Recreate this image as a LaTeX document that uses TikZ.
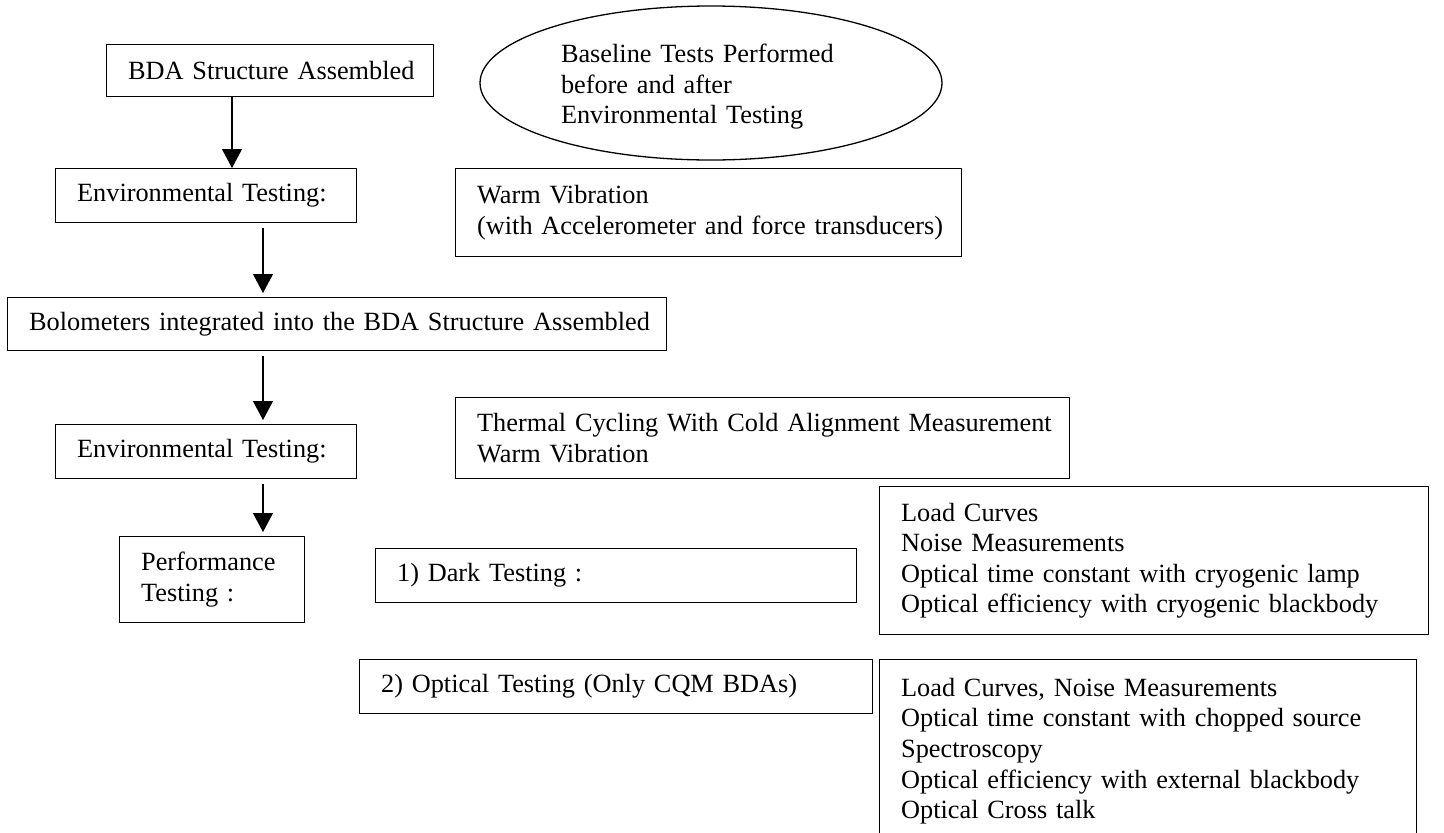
\documentclass[tikz,border=0pt]{standalone}
\usepackage{fontspec}
\setmainfont{Liberation Serif}
\usetikzlibrary{arrows.meta,shapes.geometric}
\tikzset{
	box/.style 2 args={draw,line width=1.3pt,anchor=north west,inner sep=0pt,align=left,
		text width=#1,minimum height=#2,execute at begin node={\leftskip=21.5pt\relax}},
	flow/.style={line width=1.2pt,-{Triangle[length=19pt,width=20pt]}}
}
\begin{document}
\begin{tikzpicture}[x=1pt,y=-1pt,line join=round,font={\fontsize{26.3}{30.6}\selectfont}]
		%Test flow of the BDA
		\path[use as bounding box] (0,0) rectangle (1444,833);
		\clip (0,0) rectangle (1444,833);
		\node[box={327pt}{52pt}] (bda) at (106,44) {BDA Structure Assembled};
		\node[box={301pt}{54pt}] (env1) at (55,168) {Environmental Testing:};
		\node[box={659pt}{53pt}] (bolo) at (7,297) {Bolometers integrated into the BDA Structure Assembled};
		\node[box={301pt}{54pt}] (env2) at (55,424) {Environmental Testing:};
		\node[box={185pt}{86pt}] (perf) at (119,536) {Performance\\Testing :};
		\node[draw,ellipse,line width=1.3pt,inner sep=0pt,minimum width=462pt,minimum height=154pt,
			text width=300pt,align=left,text height=26pt] (base) at (711,83) {Baseline Tests Performed\\before and after\\Environmental Testing};
		\node[box={506pt}{88pt}] (warm) at (455,168) {Warm Vibration\\(with Accelerometer and force transducers)};
		\node[box={614pt}{81pt}] (therm) at (455,397) {Thermal Cycling With Cold Alignment Measurement\\Warm Vibration};
		\node[box={481pt}{54pt}] (dark) at (375,548) {1) Dark Testing :};
		\node[box={513pt}{54pt}] (optic) at (359,659) {2) Optical Testing (Only CQM BDAs)};
		\node[box={549pt}{148pt}] (dload) at (879,486) {Load Curves\\Noise Measurements\\Optical time constant with cryogenic lamp\\Optical efficiency with cryogenic blackbody};
		\node[box={537pt}{183pt}] (oload) at (879,659) {Load Curves, Noise Measurements\\Optical time constant with chopped source\\Spectroscopy\\Optical efficiency with external blackbody\\Optical Cross talk};
		\coordinate (c1) at (232,0);
		\coordinate (c2) at (263,0);
		\draw[flow] (c1 |- bda.south)--(c1 |- env1.north);
		\foreach \a/\b in {env1/bolo,bolo/env2,env2/perf}
		\draw[flow,shorten <=5pt,shorten >=4pt] (c2 |- \a.south)--(c2 |- \b.north);
	\end{tikzpicture}
\end{document}
